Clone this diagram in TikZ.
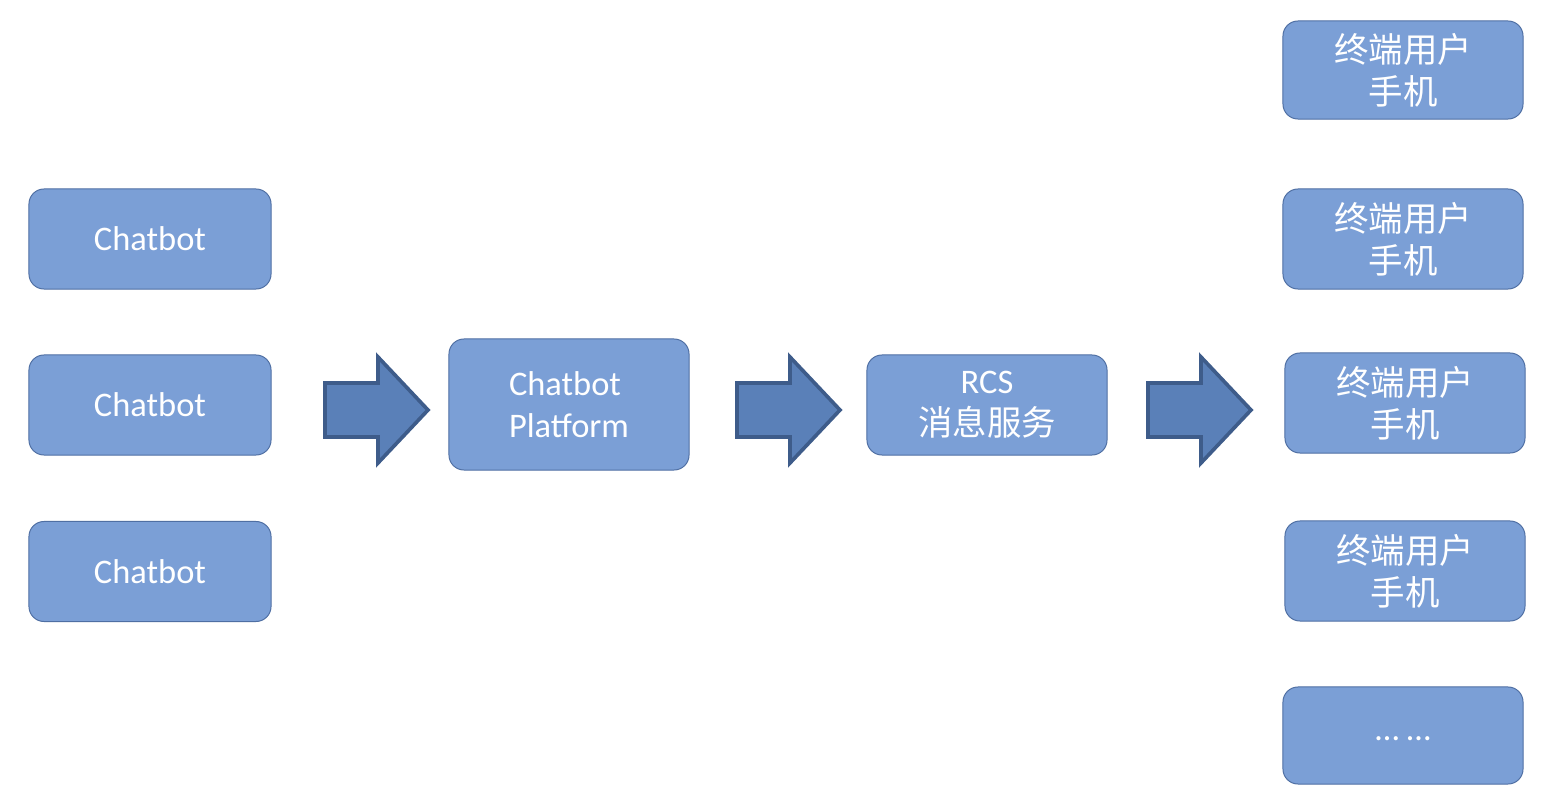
\documentclass[tikz,border=0pt]{standalone}
\usepackage{fontspec}
\setmainfont{Carlito}
\newfontfamily\cjk{Noto Sans CJK SC}
\definecolor{BoxFill}{HTML}{7B9FD6}
\definecolor{BoxEdge}{HTML}{4F6FA3}
\definecolor{ArrowFill}{HTML}{5A80B8}
\definecolor{ArrowEdge}{HTML}{3E5C8A}
\tikzset{
  unit box/.style={draw=BoxEdge, fill=BoxFill, rounded corners=0.375cm, line width=0.7pt,
    minimum width=6.0cm, minimum height=2.5cm, text=white, align=center,
    font=\fontsize{24.5}{30}\selectfont, inner sep=0pt},
  block arrow/.style={draw=ArrowEdge, fill=ArrowFill, line width=2.6pt, line join=miter},
}
% block arrow: left end x, centre y (in pixel units)
\newcommand{\flowarrow}[2]{%
  \draw[block arrow] (#1,#2-27) -- (#1+53,#2-27) -- (#1+53,#2-53) -- (#1+103,#2)
    -- (#1+53,#2+53) -- (#1+53,#2+27) -- (#1,#2+27) -- cycle;}

\begin{document}
\begin{tikzpicture}[x=0.025cm, y=-0.025cm]
  \useasboundingbox (0,0) rectangle (1546,800);

  % Chatbots on the left.
  \node[unit box, minimum width=6.05cm] (bot1) at (150,239) {Chatbot};
  \node[unit box, minimum width=6.05cm] (bot2) at (150,405) {Chatbot};
  \node[unit box, minimum width=6.05cm] (bot3) at (150,571.5) {Chatbot};

  % Platform and message service.
  \node[unit box, minimum height=3.275cm, align=left] (platform) at (569,404.5) {Chatbot\\Platform};
  \node[unit box] (rcs) at (987,405) {RCS\\{\cjk 消息服务}};

  % End user phones.
  \node[unit box, minimum height=2.45cm] (phone1) at (1403,70) {\cjk 终端用户\\\cjk 手机};
  \node[unit box] (phone2) at (1403,239) {\cjk 终端用户\\\cjk 手机};
  \node[unit box] (phone3) at (1405,403) {\cjk 终端用户\\\cjk 手机};
  \node[unit box] (phone4) at (1405,571) {\cjk 终端用户\\\cjk 手机};
  \node[unit box, minimum height=2.425cm] (more) at (1403,735.5) {\smash{\raisebox{-0.13cm}{… …}}};

  % Flow between stages.
  \flowarrow{325}{410}
  \flowarrow{737}{410}
  \flowarrow{1148}{410}
\end{tikzpicture}
\end{document}
